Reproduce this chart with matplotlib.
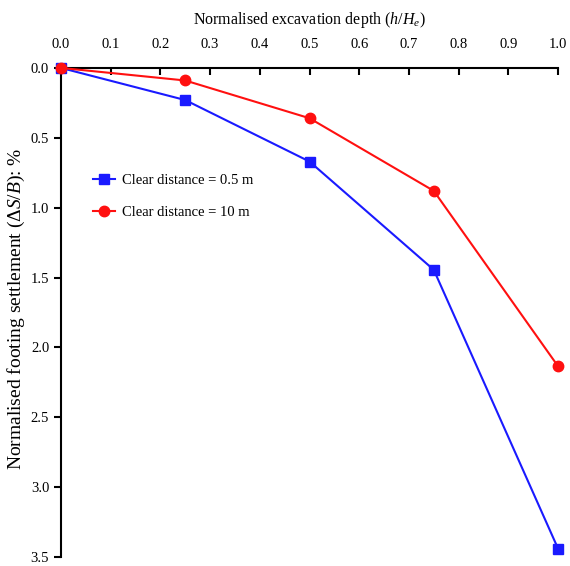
import matplotlib
matplotlib.use("Agg")
import matplotlib.pyplot as plt

plt.rcParams['font.family'] = ['Liberation Serif', 'DejaVu Serif']
plt.rcParams['mathtext.fontset'] = 'custom'
plt.rcParams['mathtext.rm'] = 'Liberation Serif'
plt.rcParams['mathtext.it'] = 'Liberation Serif:italic'

depth = [0.0, 0.25, 0.5, 0.75, 1.0]
settle_05 = [0.0, 0.23, 0.67, 1.445, 3.44]
settle_10 = [0.0, 0.09, 0.36, 0.88, 2.135]
x_ticks = [0.0, 0.1, 0.2, 0.3, 0.4, 0.5, 0.6, 0.7, 0.8, 0.9, 1.0]
y_ticks = [0.0, 0.5, 1.0, 1.5, 2.0, 2.5, 3.0, 3.5]

fig = plt.figure(figsize=(5.7, 5.66), dpi=100)
ax = fig.add_axes([0.107, 0.016, 0.872, 0.864])

ax.plot(depth, settle_05, color='#1a1aff', marker='s', markersize=7.5, lw=1.5,
        label='Clear distance = 0.5 m', clip_on=False, zorder=3)
ax.plot(depth, settle_10, color='#ff1010', marker='o', markersize=7.5, lw=1.5,
        label='Clear distance = 10 m', clip_on=False, zorder=4)

ax.set_xlim(0, 1.0)
ax.set_ylim(3.5, 0)
ax.xaxis.tick_top()
ax.xaxis.set_label_position('top')
ax.set_xticks(x_ticks)
ax.set_xticklabels([f"{v:.1f}" for v in x_ticks])
ax.set_yticks(y_ticks)
ax.set_yticklabels([f"{v:.1f}" for v in y_ticks])
ax.spines['right'].set_visible(False)
ax.spines['bottom'].set_visible(False)
ax.spines['top'].set_linewidth(1.5)
ax.spines['left'].set_linewidth(1.5)
ax.tick_params(axis='x', direction='in', length=5, width=1.5, labelsize=10.5, pad=12)
ax.tick_params(axis='y', direction='out', length=5, width=1.5, labelsize=10.5)
ax.set_xlabel(r'Normalised excavation depth ($\mathit{h/H_e}$)', fontsize=11.5, labelpad=10)
ax.set_ylabel(r'Normalised footing settlement ($\mathit{\Delta S/B}$): %', fontsize=14)
ax.yaxis.set_label_coords(-0.068, 0.508)

ax.legend(loc='upper left', bbox_to_anchor=(0.038, 0.81), frameon=False, fontsize=10.5,
          handlelength=1.5, labelspacing=1.3, handletextpad=0.5, borderpad=0.4)

fig.savefig('out.png', dpi=100)
